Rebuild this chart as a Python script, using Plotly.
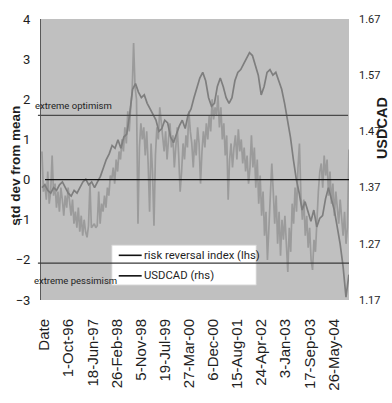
import pandas as pd
import plotly.graph_objects as go

# ---- data -------------------------------------------------------------
# Risk reversal index (std dev from mean), roughly twice a month, Jan-1996 .. Oct-2004
RR_1996 = [0.7, -0.3, -0.1, -0.5, 0.2, -0.6, -0.3, 0.6, -0.4, -0.1, -0.7, -0.3,
           -0.8, -0.2, -0.5, -0.9, -0.4, -0.7, -0.2, -0.6, -0.9, -0.5, -1.1, -0.8]
RR_1997 = [-1.2, -0.7, -1.3, -0.9, -1.4, -1.0, -1.3, -1.44, -1.15, -0.1, -1.2, -1.15,
           -1.1, -1.2, -1.15, -0.3, -1.1, -0.6, -0.8, -0.4, -0.7, -0.2, -0.4, 0.1]
RR_1998 = [0.0, 0.3, -0.1, 0.5, 0.2, 0.7, 0.5, 1.0, 0.7, 1.3, 0.9, 1.7,
           1.2, 1.8, 2.2, 3.4, 2.3, 2.0, -1.1, 0.8, 1.4, 1.0, 1.3, 0.6]
RR_1999 = [1.2, 0.4, -0.8, 0.9, 0.2, -1.15, 0.6, 1.3, 1.0, 1.8, 1.4, 1.1,
           0.7, 1.2, 0.5, 1.0, 1.4, 0.8, 1.1, 0.3, 0.9, 1.3, 0.6, -0.3]
RR_2000 = [0.2, 0.9, 0.5, 1.1, 0.8, 1.7, 1.2, 0.9, 0.3, 1.0, 0.6, 1.3,
           0.9, -0.1, 0.7, 1.2, 0.8, 1.4, 1.0, 1.6, 1.2, 2.0, 1.5, 1.8]
RR_2001 = [1.6, 2.1, 1.3, 1.8, 1.0, 1.4, 0.6, 1.1, -0.5, 0.5, 0.9, 0.3,
           0.8, 1.1, 0.5, 1.25, 0.7, 1.0, 0.4, 0.8, 0.2, 0.6, -0.1, 0.3]
RR_2002 = [1.1, 0.3, 0.8, -0.2, 0.5, -0.6, 0.1, -0.9, -0.3, -1.4, -0.8, -2.0,
           -1.2, -0.5, 0.4, -0.3, -1.1, -0.4, -1.6, -0.8, -1.9, -1.0, -1.5, -0.9]
RR_2003 = [-1.6, -2.3, -1.2, -1.8, -0.6, -1.1, -0.2, -0.8, 0.3, 0.9, -0.4, -1.0,
           -0.5, -1.4, -0.9, -1.7, -1.2, -2.0, -2.25, -1.5, -1.8, -0.9, -0.3, 0.2]
RR_2004 = [0.4, -0.2, 0.6, 0.1, 0.5, -0.4, 0.2, -0.6, -0.1, -0.9,
           -0.3, -0.7, -1.1, -0.5, -1.0, -1.4, -0.8, -1.6, -1.2, 0.75]
RISK_REVERSAL = (RR_1996 + RR_1997 + RR_1998 + RR_1999 + RR_2000 +
                 RR_2001 + RR_2002 + RR_2003 + RR_2004)

# USDCAD spot, monthly, Jan-1996 .. Oct-2004
CAD_1996 = [1.37, 1.375, 1.365, 1.36, 1.37, 1.365, 1.375, 1.38, 1.37, 1.36, 1.355, 1.365]
CAD_1997 = [1.36, 1.37, 1.38, 1.385, 1.375, 1.38, 1.37, 1.38, 1.39, 1.405, 1.42, 1.43]
CAD_1998 = [1.445, 1.44, 1.455, 1.44, 1.46, 1.465, 1.50, 1.545, 1.555, 1.54, 1.53, 1.535]
CAD_1999 = [1.52, 1.51, 1.50, 1.49, 1.47, 1.475, 1.49, 1.485, 1.46, 1.45, 1.465, 1.48]
CAD_2000 = [1.49, 1.475, 1.50, 1.51, 1.53, 1.55, 1.565, 1.575, 1.56, 1.53, 1.515, 1.52]
CAD_2001 = [1.55, 1.565, 1.55, 1.53, 1.52, 1.53, 1.56, 1.575, 1.58, 1.59, 1.60, 1.61]
CAD_2002 = [1.605, 1.585, 1.57, 1.535, 1.55, 1.575, 1.58, 1.57, 1.575, 1.56, 1.545, 1.52]
CAD_2003 = [1.49, 1.46, 1.42, 1.385, 1.36, 1.33, 1.345, 1.325, 1.31, 1.33, 1.30, 1.315]
CAD_2004 = [1.32, 1.35, 1.37, 1.35, 1.33, 1.30, 1.27, 1.23, 1.175, 1.215]
USDCAD = (CAD_1996 + CAD_1997 + CAD_1998 + CAD_1999 + CAD_2000 +
          CAD_2001 + CAD_2002 + CAD_2003 + CAD_2004)

START, END = "1996-01-02", "2004-10-29"
rr_dates = pd.date_range(START, END, periods=len(RISK_REVERSAL))
cad_dates = pd.date_range(START, END, periods=len(USDCAD))

# category labels along the bottom
TICK_DATES = ["1996-01-21", "1996-10-01", "1997-06-18", "1998-02-26", "1998-11-05",
              "1999-07-19", "2000-03-27", "2000-12-06", "2001-08-15", "2002-04-24",
              "2003-01-03", "2003-09-17", "2004-05-26"]
TICK_TEXT = ["Date", "1-Oct-96", "18-Jun-97", "26-Feb-98", "5-Nov-98", "19-Jul-99",
             "27-Mar-00", "6-Dec-00", "15-Aug-01", "24-Apr-02", "3-Jan-03",
             "17-Sep-03", "26-May-04"]

EXTREME_OPTIMISM = 1.6
EXTREME_PESSIMISM = -2.08
SERIES_NAMES = ["risk reversal index (lhs)", "USDCAD (rhs)"]

# ---- styling ----------------------------------------------------------
SMALL = "Roboto, Liberation Sans, Arial, sans-serif"
REGULAR = "Liberation Sans, Arial, sans-serif"
TXT = "#1e1e1e"

fig = go.Figure()
fig.add_trace(go.Scatter(x=rr_dates, y=RISK_REVERSAL, mode="lines",
                         line=dict(color="#9b9b9b", width=1.7),
                         name=SERIES_NAMES[0], showlegend=False, yaxis="y"))
fig.add_trace(go.Scatter(x=cad_dates, y=USDCAD, mode="lines",
                         line=dict(color="#7e7e7e", width=1.7),
                         name=SERIES_NAMES[1], showlegend=False, yaxis="y2"))

shapes = [
    # zero line
    dict(type="line", xref="paper", yref="y", x0=0.013, x1=1.0, y0=0, y1=0,
         line=dict(color="#111111", width=1.3), layer="above"),
    # extreme optimism
    dict(type="line", xref="paper", yref="y", x0=-0.01, x1=0.997,
         y0=EXTREME_OPTIMISM, y1=EXTREME_OPTIMISM,
         line=dict(color="#4a4a4a", width=1.3), layer="above"),
    # legend box
    dict(type="rect", xref="paper", yref="paper", x0=0.2298, x1=0.699, y0=0.053, y1=0.1954,
         fillcolor="white", line=dict(color="#d0d0d0", width=1), layer="above"),
    # extreme pessimism (over the legend box)
    dict(type="line", xref="paper", yref="y", x0=-0.01, x1=1.0,
         y0=EXTREME_PESSIMISM, y1=EXTREME_PESSIMISM,
         line=dict(color="#3a3a3a", width=1.3), layer="above"),
    # legend keys
    dict(type="line", xref="paper", yref="paper", x0=0.2524, x1=0.3269, y0=0.159, y1=0.159,
         line=dict(color="#111111", width=1.6), layer="above"),
    dict(type="line", xref="paper", yref="paper", x0=0.2524, x1=0.3269, y0=0.086, y1=0.086,
         line=dict(color="#111111", width=1.6), layer="above"),
]

annotations = [
    dict(text=SERIES_NAMES[0], xref="paper", yref="paper", x=0.328, y=0.159,
         xanchor="left", yanchor="middle", showarrow=False,
         font=dict(family=SMALL, size=11.3, color=TXT)),
    dict(text=SERIES_NAMES[1], xref="paper", yref="paper", x=0.328, y=0.086,
         xanchor="left", yanchor="middle", showarrow=False,
         font=dict(family=SMALL, size=11.3, color=TXT)),
    dict(text="extreme optimism", xref="paper", yref="paper", x=-0.026, y=0.692,
         xanchor="left", yanchor="middle", showarrow=False,
         font=dict(family=SMALL, size=9.5, color=TXT)),
    dict(text="extreme pessimism", xref="paper", yref="paper", x=-0.029, y=0.0695,
         xanchor="left", yanchor="middle", showarrow=False,
         font=dict(family=SMALL, size=9.5, color=TXT)),
    dict(text="<b>std dev from mean</b>", xref="paper", yref="paper", x=-0.084, y=0.4785,
         xanchor="center", yanchor="middle", textangle=-90, showarrow=False,
         font=dict(family=REGULAR, size=13.5, color=TXT)),
    dict(text="<b>USDCAD</b>", xref="paper", yref="paper", x=1.108, y=0.6126,
         xanchor="center", yanchor="middle", textangle=-90, showarrow=False,
         font=dict(family=REGULAR, size=14.5, color=TXT)),
]

fig.update_layout(
    width=392, height=403,
    margin=dict(l=41, r=42, t=16, b=85, pad=0),
    paper_bgcolor="white",
    plot_bgcolor="#c0c0c0",
    showlegend=False,
    shapes=shapes,
    annotations=annotations,
    xaxis=dict(
        type="date", range=["1995-12-23", "2004-10-30"],
        tickmode="array", tickvals=TICK_DATES, ticktext=TICK_TEXT,
        tickangle=-90, ticks="", showgrid=False, zeroline=False, showline=False,
        ticklabelstandoff=15,
        tickfont=dict(family=REGULAR, size=15, color=TXT),
    ),
    yaxis=dict(
        range=[-3, 4], dtick=1, tick0=0, ticks="", showgrid=False, zeroline=False,
        showline=True, linecolor="#5a5a5a", linewidth=1,
        ticklabelstandoff=7,
        tickfont=dict(family=SMALL, size=13, color=TXT),
    ),
    yaxis2=dict(
        overlaying="y", side="right", range=[1.17, 1.67], tick0=1.17, dtick=0.1,
        tickformat=".2f", ticks="", showgrid=False, zeroline=False, showline=False,
        ticklabelstandoff=9,
        tickfont=dict(family=SMALL, size=11, color=TXT),
    ),
)

fig.write_html("out.html")
